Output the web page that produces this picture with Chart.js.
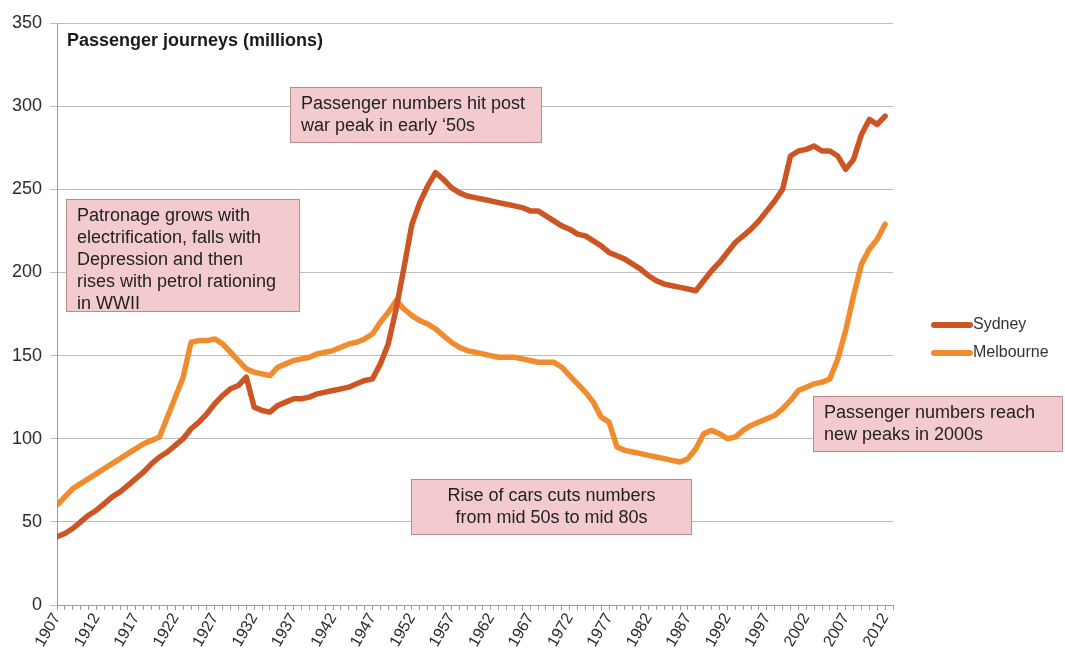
<!DOCTYPE html>
<html>
<head>
<meta charset="utf-8">
<script src="https://cdn.jsdelivr.net/npm/chart.js@4/dist/chart.umd.min.js"></script>
<style>
  html, body { margin: 0; padding: 0; background: #fff; }
  #wrap { width: 1065px; height: 657px; }
</style>
</head>
<body>
<div id="wrap"><canvas id="c" width="1065" height="657"></canvas></div>
<script>
// Annual passenger journeys (millions), 1907–2012
const firstYear = 1907;
const lastYear = 2012;
const axisEndYear = 2013;
const years = [];
for (let y = firstYear; y <= lastYear; y++) years.push(y);

const sydney = [
  41, 43, 46, 50, 54, 57, 61, 65, 68, 72,          // 1907-1916
  76, 80, 85, 89, 92, 96, 100, 106, 110, 115,      // 1917-1926
  121, 126, 130, 132, 137, 119, 117, 116, 120, 122, // 1927-1936
  124, 124, 125, 127, 128, 129, 130, 131, 133, 135, // 1937-1946
  136, 145, 157, 178, 203, 229, 242, 252, 260, 256, // 1947-1956
  251, 248, 246, 245, 244, 243, 242, 241, 240, 239, // 1957-1966
  237, 237, 234, 231, 228, 226, 223, 222, 219, 216, // 1967-1976
  212, 210, 208, 205, 202, 198, 195, 193, 192, 191, // 1977-1986
  190, 189, 195, 201, 206, 212, 218, 222, 226, 231, // 1987-1996
  237, 243, 250, 270, 273, 274, 276, 273, 273, 270, // 1997-2006
  262, 268, 283, 292, 289, 294                      // 2007-2012
];

const melbourne = [
  60, 65, 70, 73, 76, 79, 82, 85, 88, 91,          // 1907-1916
  94, 97, 99, 101, 113, 125, 137, 158, 159, 159,   // 1917-1926
  160, 157, 152, 147, 142, 140, 139, 138, 143, 145, // 1927-1936
  147, 148, 149, 151, 152, 153, 155, 157, 158, 160, // 1937-1946
  163, 170, 176, 183, 178, 174, 171, 169, 166, 162, // 1947-1956
  158, 155, 153, 152, 151, 150, 149, 149, 149, 148, // 1957-1966
  147, 146, 146, 146, 143, 138, 133, 128, 122, 113, // 1967-1976
  110, 95, 93, 92, 91, 90, 89, 88, 87, 86,         // 1977-1986
  88, 94, 103, 105, 103, 100, 101, 105, 108, 110,  // 1987-1996
  112, 114, 118, 123, 129, 131, 133, 134, 136, 148, // 1997-2006
  165, 186, 205, 214, 220, 229                      // 2007-2012
];

const seriesNames = ['Sydney', 'Melbourne'];
const seriesColors = ['#cd5524', '#f08c2e'];
const yTicks = [0, 50, 100, 150, 200, 250, 300, 350];
const labelEvery = 5;

const chartTitle = 'Passenger journeys (millions)';
const notes = [
  { lines: ['Passenger numbers hit post', 'war peak in early \u201850s'], box: [290, 87, 542, 143], align: 'left' },
  { lines: ['Patronage grows with', 'electrification, falls with', 'Depression and then', 'rises with petrol rationing', 'in WWII'], box: [66, 199, 300, 312], align: 'left' },
  { lines: ['Rise of cars cuts numbers', 'from mid 50s to mid 80s'], box: [411, 479, 692, 535], align: 'center' },
  { lines: ['Passenger numbers reach', 'new peaks in 2000s'], box: [813, 396, 1063, 452], align: 'left' }
];

const FONT = '"Liberation Sans", Arial, sans-serif';

const toPoints = arr => arr.map((v, i) => ({ x: years[i], y: v }));

const overlay = {
  id: 'overlay',
  afterDatasetsDraw(chart) {
    const ctx = chart.ctx;
    const area = chart.chartArea;
    ctx.save();
    // chart heading inside the plot area
    ctx.font = 'bold 18px ' + FONT;
    ctx.fillStyle = '#1a1a1a';
    ctx.textAlign = 'left';
    ctx.textBaseline = 'middle';
    ctx.fillText(chartTitle, area.left + 10, 41);

    // callout boxes
    notes.forEach(n => {
      const [x0, y0, x1, y1] = n.box;
      ctx.save();
      ctx.fillStyle = '#f3cbce';
      ctx.strokeStyle = '#b98a8e';
      ctx.lineWidth = 1;
      ctx.fillRect(x0, y0, x1 - x0, y1 - y0);
      ctx.strokeRect(x0 + 0.5, y0 + 0.5, x1 - x0 - 1, y1 - y0 - 1);
      ctx.beginPath();
      ctx.rect(x0, y0, x1 - x0, y1 - y0 - 1);
      ctx.clip();
      ctx.font = '18px ' + FONT;
      ctx.fillStyle = '#222';
      ctx.textBaseline = 'middle';
      ctx.textAlign = n.align;
      const tx = n.align === 'center' ? (x0 + x1) / 2 : x0 + 11;
      n.lines.forEach((line, i) => {
        ctx.fillText(line, tx, y0 + 17 + i * 22);
      });
      ctx.restore();
    });

    // legend
    ctx.font = '16px ' + FONT;
    ctx.textAlign = 'left';
    ctx.textBaseline = 'middle';
    chart.data.datasets.forEach((ds, i) => {
      const y = 325 + i * 28;
      ctx.strokeStyle = ds.borderColor;
      ctx.lineWidth = 6;
      ctx.lineCap = 'round';
      ctx.beginPath();
      ctx.moveTo(934, y);
      ctx.lineTo(970, y);
      ctx.stroke();
      ctx.fillStyle = '#333';
      ctx.fillText(ds.label, 973, y);
    });
    ctx.restore();
  }
};

new Chart(document.getElementById('c'), {
  type: 'line',
  data: {
    datasets: [
      { label: seriesNames[0], data: toPoints(sydney), borderColor: seriesColors[0] },
      { label: seriesNames[1], data: toPoints(melbourne), borderColor: seriesColors[1] }
    ]
  },
  options: {
    responsive: false,
    animation: false,
    layout: { padding: { top: 23, right: 172, left: 0, bottom: 0 } },
    elements: {
      line: { borderWidth: 5.5, tension: 0, borderJoinStyle: 'round', borderCapStyle: 'round', fill: false },
      point: { radius: 0, hoverRadius: 0 }
    },
    plugins: {
      legend: { display: false },
      title: { display: false },
      tooltip: { enabled: false }
    },
    scales: {
      x: {
        type: 'linear',
        min: firstYear,
        max: axisEndYear,
        afterFit: s => { s.height = 52; },
        afterBuildTicks: s => {
          s.ticks = [];
          for (let y = firstYear; y <= axisEndYear; y++) s.ticks.push({ value: y });
        },
        border: { display: true, color: '#9a9a9a', width: 1 },
        grid: { display: true, drawOnChartArea: false, drawTicks: true, tickLength: 5, color: '#9a9a9a', lineWidth: 1 },
        ticks: {
          autoSkip: false,
          minRotation: 60,
          maxRotation: 60,
          padding: 0,
          color: '#2b2b2b',
          font: { family: FONT, size: 16 },
          callback: v => ((v - firstYear) % labelEvery === 0 ? String(v) : '')
        }
      },
      y: {
        min: yTicks[0],
        max: yTicks[yTicks.length - 1],
        afterFit: s => { s.width = 57; },
        afterBuildTicks: s => { s.ticks = yTicks.map(v => ({ value: v })); },
        border: { display: true, color: '#9a9a9a', width: 1 },
        grid: { color: '#bdbdbd', lineWidth: 1, tickLength: 7 },
        ticks: {
          padding: 8,
          color: '#2b2b2b',
          font: { family: FONT, size: 18 }
        }
      }
    }
  },
  plugins: [overlay]
});
</script>
</body>
</html>
